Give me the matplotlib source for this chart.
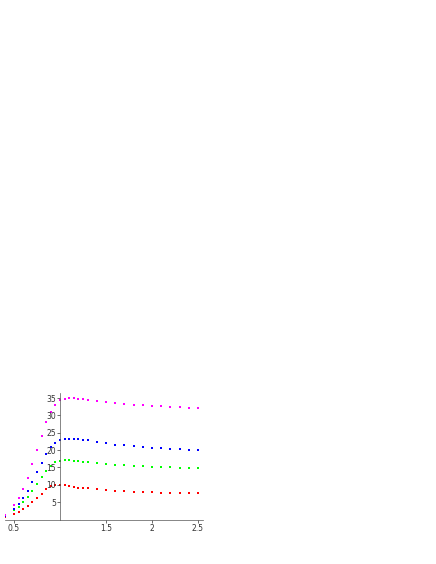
import matplotlib
matplotlib.use("Agg")
import matplotlib.pyplot as plt

x = [0.4,0.5,0.55,0.6,0.65,0.7,0.75,0.8,0.85,0.9,0.95,1.0,1.05,1.1,1.15,1.2,1.25,1.3,
     1.4,1.5,1.6,1.7,1.8,1.9,2.0,2.1,2.2,2.3,2.4,2.5]
magenta = [1.4,4.2,6.3,8.8,11.9,15.9,19.9,24.1,28.0,31.0,33.1,34.3,34.8,34.9,35.0,34.8,34.6,34.5,
           34.1,33.8,33.5,33.3,33.1,32.9,32.8,32.6,32.5,32.3,32.2,32.0]
blue = [1.1,3.1,4.5,6.2,8.2,10.8,13.6,16.3,18.8,20.8,22.1,23.0,23.3,23.3,23.2,23.1,23.0,22.8,
        22.4,22.0,21.6,21.4,21.1,20.9,20.7,20.5,20.3,20.2,20.0,19.9]
green = [0.9,2.6,3.6,4.9,6.4,8.2,10.1,12.2,14.1,15.5,16.5,16.9,17.0,17.0,16.9,16.8,16.7,16.6,
         16.3,16.0,15.8,15.6,15.4,15.3,15.2,15.1,15.0,14.9,14.9,14.8]
red = [0.6,1.6,2.3,3.0,3.9,5.0,6.3,7.4,8.7,9.6,9.9,10.0,9.9,9.6,9.4,9.2,9.1,9.1,
       8.7,8.5,8.3,8.1,8.0,7.9,7.8,7.7,7.6,7.6,7.5,7.5]
series = [(red, '#ff0000'), (green, '#00ff00'), (blue, '#0000ff'), (magenta, '#ff00ff')]
xticks = [0.5, 1.5, 2, 2.5]
xticklabels = ['0.5', '1.5', '2', '2.5']
yticks = [5, 10, 15, 20, 25, 30, 35]

fig = plt.figure(figsize=(4.36, 5.64), dpi=100)
ax = fig.add_axes([4.8/436, 44.5/564, 197.8/436, 126.7/564])
for ys, c in series:
    ax.scatter(x, ys, s=3, marker='s', color=c, linewidths=0)
ax.set_xlim(0.4, 2.55)
ax.set_ylim(0, 36.5)
ax.spines['top'].set_visible(False)
ax.spines['right'].set_visible(False)
ax.spines['left'].set_position(('data', 1.0))
ax.spines['bottom'].set_position(('data', 0))
for s in ('left', 'bottom'):
    ax.spines[s].set_linewidth(0.5)
    ax.spines[s].set_color('#555555')
ax.set_xticks(xticks)
ax.set_xticklabels(xticklabels)
ax.set_yticks(yticks)
ax.tick_params(labelsize=5.5, width=0.5, length=2, colors='#333333', pad=1)
ax.patch.set_alpha(0)
fig.savefig('out.png', dpi=100)
